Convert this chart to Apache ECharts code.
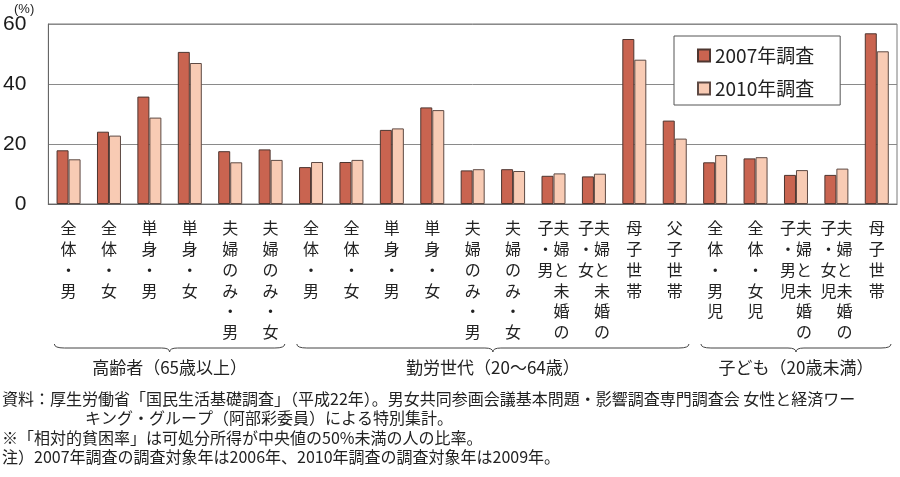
<!DOCTYPE html>
<html>
<head>
<meta charset="utf-8">
<script src="https://cdn.jsdelivr.net/npm/echarts@6/dist/echarts.min.js"></script>
<style>
    html, body { margin: 0; padding: 0; background: #fff; }
    #chart { width: 900px; height: 477px; }
</style>
</head>
<body>
<div id="chart"></div>
<script>
const categories = [
    '全体・男', '全体・女', '単身・男', '単身・女', '夫婦のみ・男', '夫婦のみ・女',
    '全体・男', '全体・女', '単身・男', '単身・女', '夫婦のみ・男', '夫婦のみ・女',
    '夫婦と未婚の子・男', '夫婦と未婚の子・女', '母子世帯', '父子世帯',
    '全体・男児', '全体・女児', '夫婦と未婚の子・男児', '夫婦と未婚の子・女児', '母子世帯'
];
const groupNames = ['高齢者（65歳以上）', '勤労世代（20〜64歳）', '子ども（20歳未満）'];
const groupRanges = [[0, 5], [6, 15], [16, 20]];
const seriesNames = ['2007年調査', '2010年調査'];
const values2007 = [17.9, 24.1, 35.8, 50.7, 17.6, 18.2, 12.3, 14.0, 24.7, 32.2, 11.2, 11.6, 9.4, 9.2, 55.0, 27.8, 13.9, 15.2, 9.7, 9.7, 56.9];
const values2010 = [14.9, 22.8, 28.8, 47.0, 13.9, 14.7, 14.0, 14.7, 25.2, 31.3, 11.6, 11.0, 10.2, 10.1, 48.1, 21.8, 16.3, 15.6, 11.3, 11.8, 50.9];
const yTicks = [0, 20, 40, 60];
const notes = [
    '資料：厚生労働省「国民生活基礎調査」（平成22年）。男女共同参画会議基本問題・影響調査専門調査会 女性と経済ワー',
    'キング・グループ（阿部彩委員）による特別集計。',
    '※「相対的貧困率」は可処分所得が中央値の50%未満の人の比率。',
    '注）2007年調査の調査対象年は2006年、2010年調査の調査対象年は2009年。'
];

const JP = '"Noto Sans CJK JP", "Noto Sans", sans-serif';
const colors = ['#c96450', '#f8cbb4'];

// vertical text: first 6 chars in the right column, the rest in a left column
function verticalLabel(text) {
    const chars = Array.from(text);
    const right = chars.slice(0, 6);
    const left = chars.slice(6);
    if (!left.length) return right.join('\n');
    return right.map((c, i) => (left[i] || '\u3000') + c).join('\n');
}

const chart = echarts.init(document.getElementById('chart'));

chart.setOption({
    animation: false,
    grid: {
        left: 44, right: 3, top: 24, bottom: 273,
        show: true, borderColor: '#7a7a7a', borderWidth: 1
    },
    legend: {
        orient: 'vertical',
        left: 674, top: 36,
        padding: [10, 26, 7, 23],
        itemGap: 14,
        itemWidth: 12, itemHeight: 12,
        icon: 'rect',
        borderColor: '#555', borderWidth: 1,
        backgroundColor: '#fff',
        textStyle: { fontFamily: JP, fontSize: 19, color: '#222' },
        data: seriesNames
    },
    xAxis: {
        type: 'category',
        data: categories,
        axisLine: { lineStyle: { color: '#666', width: 1.2 } },
        axisTick: { inside: true, length: 5, lineStyle: { color: '#555' } },
        axisLabel: {
            interval: 0,
            margin: 14,
            fontFamily: JP,
            fontSize: 16,
            lineHeight: 20.7,
            color: '#222',
            verticalAlign: 'top',
            formatter: verticalLabel
        }
    },
    yAxis: {
        type: 'value',
        min: yTicks[0],
        max: yTicks[yTicks.length - 1],
        interval: yTicks[1] - yTicks[0],
        axisLine: { show: true, lineStyle: { color: '#666' } },
        axisTick: { show: false },
        axisLabel: {
            margin: 22,
            fontFamily: 'Liberation Sans, Arial, sans-serif',
            fontSize: 21,
            color: '#1a1a1a'
        },
        splitLine: { lineStyle: { color: '#8a8a8a', width: 1 } }
    },
    series: [
        {
            name: seriesNames[0],
            type: 'bar',
            data: values2007,
            barWidth: 12,
            barGap: '0%',
            itemStyle: { color: colors[0], borderColor: '#4e3630', borderWidth: 1 }
        },
        {
            name: seriesNames[1],
            type: 'bar',
            data: values2010,
            barWidth: 12,
            itemStyle: { color: colors[1], borderColor: '#5e4a44', borderWidth: 1 }
        }
    ]
});

// group braces and captions, placed from the category axis scale
function drawGroups() {
    const c0 = chart.convertToPixel({ xAxisIndex: 0 }, 0);
    const c1 = chart.convertToPixel({ xAxisIndex: 0 }, 1);
    const band = c1 - c0;
    const y = 348;
    const stroke = { stroke: '#444', lineWidth: 1, fill: null };
    const elements = [];

    const curve = (x1, y1, cx, cy, x2, y2) => ({
        type: 'bezierCurve',
        shape: { x1, y1, cpx1: cx, cpy1: cy, x2, y2 },
        style: stroke
    });
    const line = (x1, x2) => ({
        type: 'line',
        shape: { x1, y1: y, x2, y2: y },
        style: stroke
    });

    groupRanges.forEach(([from, to], i) => {
        const x0 = chart.convertToPixel({ xAxisIndex: 0 }, from) - band / 2 + 6;
        const x1 = chart.convertToPixel({ xAxisIndex: 0 }, to) + band / 2 - 6;
        const xm = (x0 + x1) / 2;
        elements.push(
            curve(x0, y - 4, x0, y, x0 + 10, y),
            line(x0 + 10, xm - 8),
            curve(xm - 8, y, xm, y, xm, y + 4),
            curve(xm, y + 4, xm, y, xm + 8, y),
            line(xm + 8, x1 - 10),
            curve(x1 - 10, y, x1, y, x1, y - 4)
        );
        elements.push({
            type: 'text',
            x: xm, y: 368,
            style: {
                text: groupNames[i],
                font: `17px ${JP}`,
                fill: '#222',
                align: 'center',
                verticalAlign: 'middle'
            }
        });
    });

    elements.push({
        type: 'text', x: 14, y: 3,
        style: { text: '(%)', font: '13px "Liberation Sans", Arial, sans-serif', fill: '#222' }
    });

    const noteX = [2, 85, 2, 2];
    const noteY = [399, 418, 438, 457];
    notes.forEach((t, i) => {
        elements.push({
            type: 'text', x: noteX[i], y: noteY[i],
            style: { text: t, font: `16px ${JP}`, fill: '#222', verticalAlign: 'middle' }
        });
    });

    chart.setOption({ graphic: elements });
}

drawGroups();
window.addEventListener('resize', () => chart.resize());
</script>
</body>
</html>
